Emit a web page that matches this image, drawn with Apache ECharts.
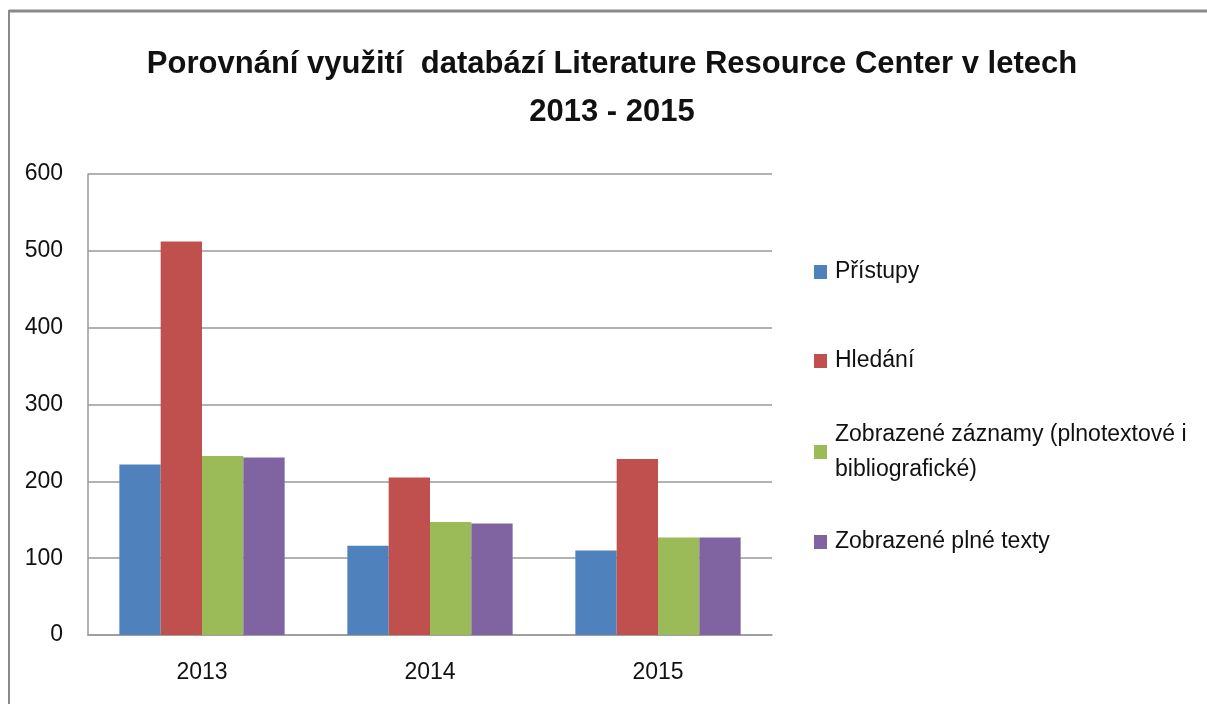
<!DOCTYPE html>
<html>
<head>
<meta charset="utf-8">
<script src="https://cdn.jsdelivr.net/npm/echarts@6/dist/echarts.min.js"></script>
<style>
html,body{margin:0;padding:0;background:#fff;}
#chart{width:1207px;height:704px;}
</style>
</head>
<body>
<div id="chart"></div>
<script>
const titleText = 'Porovnání využití  databází Literature Resource Center v letech\n2013 - 2015';
const categories = ['2013', '2014', '2015'];
const seriesNames = ['Přístupy', 'Hledání', 'Zobrazené záznamy (plnotextové i bibliografické)', 'Zobrazené plné texty'];
const pristupy = [222, 116, 110];
const hledani = [512, 205, 229];
const zaznamy = [233, 147, 127];
const plneTexty = [231, 145, 127];
const yTicks = [0, 100, 200, 300, 400, 500, 600];

const colors = ['#4F81BD', '#C0504D', '#9BBB59', '#8064A2'];
const FONT = "'Liberation Sans', Arial, sans-serif";
const values = [pristupy, hledani, zaznamy, plneTexty];

const legendTops = [272, 361, 452, 542];
const LH = 35;
const legends = seriesNames.map((name, i) => {
  const twoLine = i === 2;
  return {
    show: true,
    orient: 'vertical',
    left: 814,
    top: twoLine ? legendTops[i] - 1.5 * LH : legendTops[i] - LH / 2,
    padding: 0,
    itemWidth: 13,
    itemHeight: 14,
    itemGap: 0,
    selectedMode: false,
    icon: 'rect',
    data: [name],
    formatter: (n) => n === seriesNames[2] ? 'Zobrazené záznamy (plnotextové i\nbibliografické)' : n,
    textStyle: {
      fontFamily: FONT,
      fontSize: 23,
      color: '#111',
      lineHeight: LH,
      padding: twoLine ? [LH, 0, 0, 3] : [0, 0, 0, 3]
    }
  };
});

const chart = echarts.init(document.getElementById('chart'), null, {renderer: 'canvas'});
chart.setOption({
  backgroundColor: '#fff',
  animation: false,
  color: colors,
  title: {
    text: titleText,
    left: 607,
    textAlign: 'center',
    top: 35,
    textStyle: {
      fontFamily: FONT,
      fontWeight: 'bold',
      fontSize: 31,
      lineHeight: 48,
      color: '#111'
    }
  },
  legend: legends,
  grid: {
    left: 88,
    right: 435,
    top: 174,
    bottom: 69,
    containLabel: false
  },
  xAxis: {
    type: 'category',
    data: categories,
    axisLine: {lineStyle: {color: '#999', width: 1.5}},
    axisTick: {show: false},
    axisLabel: {fontFamily: FONT, fontSize: 23, color: '#111', margin: 26, lineHeight: 24}
  },
  yAxis: {
    type: 'value',
    min: yTicks[0],
    max: yTicks[yTicks.length - 1],
    interval: 100,
    axisLine: {show: true, lineStyle: {color: '#999', width: 1.5}},
    axisTick: {show: false},
    splitLine: {lineStyle: {color: '#999', width: 1.5}},
    axisLabel: {fontFamily: FONT, fontSize: 23, color: '#111', margin: 25}
  },
  series: seriesNames.map((name, i) => ({
    name: name,
    type: 'bar',
    data: values[i],
    barGap: '0%',
    barCategoryGap: '27.5%',
    itemStyle: {color: colors[i]}
  })),
  graphic: [
    {type: 'line', shape: {x1: 9, y1: 11, x2: 1207, y2: 11}, style: {stroke: '#8a8a8a', lineWidth: 3}, silent: true},
    {type: 'line', shape: {x1: 9, y1: 10, x2: 9, y2: 704}, style: {stroke: '#8a8a8a', lineWidth: 2}, silent: true}
  ]
});
</script>
</body>
</html>
